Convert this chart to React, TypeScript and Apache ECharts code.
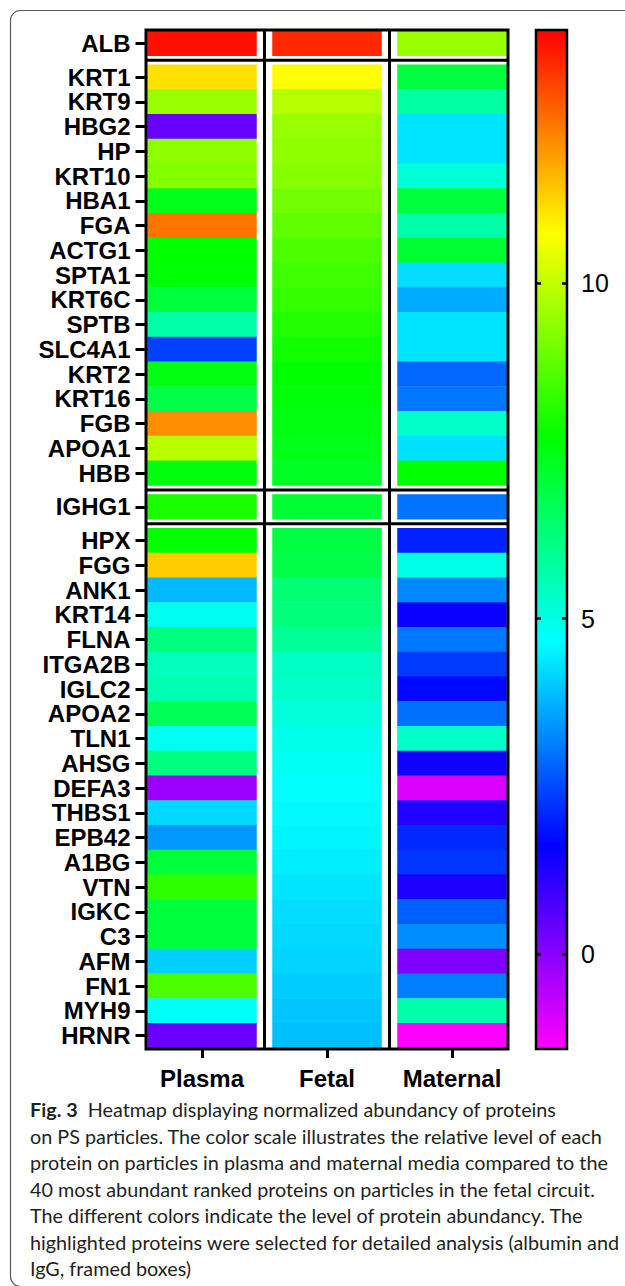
import React, { useEffect, useRef } from "react";
import * as echarts from "echarts";

// ---------- data ----------
const columns = ["Plasma", "Fetal", "Maternal"];

const groupAlbumin = ["ALB"];
const groupUpper = [
  "KRT1", "KRT9", "HBG2", "HP", "KRT10", "HBA1", "FGA", "ACTG1", "SPTA1",
  "KRT6C", "SPTB", "SLC4A1", "KRT2", "KRT16", "FGB", "APOA1", "HBB",
];
const groupIgG = ["IGHG1"];
const groupLower = [
  "HPX", "FGG", "ANK1", "KRT14", "FLNA", "ITGA2B", "IGLC2", "APOA2", "TLN1",
  "AHSG", "DEFA3", "THBS1", "EPB42", "A1BG", "VTN", "IGKC", "C3", "AFM",
  "FN1", "MYH9", "HRNR",
];

// values in protein order: ALB | upper 17 | IGHG1 | lower 21
const plasmaValues = [
  13.6,
  11.1, 9.5, 0.4, 9.4, 9.25, 7.4, 12.4, 7.75, 7.65, 7.0, 5.7, 2.4, 7.5, 6.85, 12.1, 9.9, 7.55,
  8.0,
  7.75, 11.35, 3.82, 4.86, 6.2, 5.47, 5.6, 6.7, 4.84, 6.2, -0.23, 4.2, 3.44, 7.0, 8.25, 7.0, 7.0, 4.1, 8.6, 4.75, 0.36,
];
const fetalValues = [
  13.3,
  10.75, 9.85, 9.5, 9.4, 9.3, 9.05, 8.85, 8.6, 8.45, 8.3, 8.1, 7.9, 7.7, 7.6, 7.5, 7.4, 7.3,
  7.1,
  6.9, 6.85, 6.3, 6.25, 5.9, 5.35, 5.3, 5.1, 4.9, 4.8, 4.66, 4.6, 4.55, 4.45, 4.35, 4.25, 4.2, 4.15, 4.05, 3.97, 3.9,
];
const maternalValues = [
  9.5,
  6.95, 5.8, 4.35, 4.35, 5.1, 6.95, 5.7, 7.1, 4.25, 3.65, 4.35, 4.35, 2.85, 3.05, 5.3, 4.3, 7.75,
  3.0,
  2.0, 4.95, 3.25, 1.5, 3.05, 2.3, 1.7, 2.95, 5.3, 1.45, -1.0, 1.25, 2.1, 2.25, 1.3, 2.75, 3.3, 0.1, 3.15, 5.7, -1.42,
];

const scaleMin = -1.42;
const scaleMax = 13.78;
const scaleTicks = [0, 5, 10];
const scaleColors = ["#ff00ff", "#0000ff", "#00ffff", "#00ff00", "#ffff00", "#ff0000"];

const captionBold = "Fig. 3";
const captionLines = [
  "Heatmap displaying normalized abundancy of proteins",
  "on PS particles. The color scale illustrates the relative level of each",
  "protein on particles in plasma and maternal media compared to the",
  "40 most abundant ranked proteins on particles in the fetal circuit.",
  "The different colors indicate the level of protein abundancy. The",
  "highlighted proteins were selected for detailed analysis (albumin and",
  "IgG, framed boxes)",
];

// ---------- layout ----------
const W = 625;
const H = 1286;
const COL_LEFT = 147.5;
const COL_W = 109;
const COL_GAP = 16;
const ROW_TOP = 31;
const ROW_H = 24.75;
const GROUP_GAP = 9;
const CB_LEFT = 536;
const CB_W = 31;
const LABEL_FONT = "'Liberation Sans', Arial, sans-serif";
const LABEL_SIZE = 24;
const CAPTION_FONT = "Lato, 'Noto Sans', sans-serif";
const CAPTION_SIZE = 19.8;
const CAPTION_X = 30;
const CAPTION_Y0 = 1109;
const CAPTION_PITCH = 26.5;

function buildOption(): any {
  const groups = [groupAlbumin, groupUpper, groupIgG, groupLower];
  const valueCols = [plasmaValues, fetalValues, maternalValues];
  const grid: any[] = [];
  const xAxis: any[] = [];
  const yAxis: any[] = [];
  const series: any[] = [];
  const sepY: number[] = [];
  let top = ROW_TOP;
  let offset = 0;

  groups.forEach((names, g) => {
    const h = names.length * ROW_H;
    const isLast = g === groups.length - 1;
    columns.forEach((col, c) => {
      const idx = grid.length;
      grid.push({
        left: COL_LEFT + c * (COL_W + COL_GAP),
        top,
        width: COL_W,
        height: h,
        containLabel: false,
        outerBoundsMode: "none",
      });
      xAxis.push({
        type: "category",
        gridIndex: idx,
        data: [col],
        position: "bottom",
        axisLine: { show: false },
        axisTick: {
          show: isLast,
          alignWithLabel: true,
          length: 10,
          lineStyle: { color: "#000", width: 3 },
        },
        axisLabel: {
          show: isLast,
          interval: 0,
          margin: 18,
          color: "#000",
          fontFamily: LABEL_FONT,
          fontWeight: "bold",
          fontSize: LABEL_SIZE,
        },
        splitLine: { show: false },
      });
      yAxis.push({
        type: "category",
        gridIndex: idx,
        data: names,
        inverse: true,
        axisLine: { show: false },
        axisTick: {
          show: c === 0,
          interval: 0,
          alignWithLabel: true,
          length: 12,
          lineStyle: { color: "#000", width: 3 },
        },
        axisLabel: {
          show: c === 0,
          interval: 0,
          margin: 17,
          color: "#000",
          fontFamily: LABEL_FONT,
          fontWeight: "bold",
          fontSize: LABEL_SIZE,
        },
        splitLine: { show: false },
      });
      series.push({
        type: "heatmap",
        xAxisIndex: idx,
        yAxisIndex: idx,
        silent: true,
        progressive: 0,
        emphasis: { disabled: true },
        data: names.map((n, i) => [col, n, valueCols[c][offset + i]]),
      });
    });
    offset += names.length;
    top += h;
    if (!isLast) {
      sepY.push(top + GROUP_GAP / 2);
      top += GROUP_GAP;
    }
  });

  const total = top - ROW_TOP;
  const frameX = COL_LEFT - 1.5;
  const frameY = ROW_TOP - 1;
  const frameW = 3 * COL_W + 2 * COL_GAP + 3;
  const frameH = total + 2;

  // colour bar frame + ticks
  const cbIdx = grid.length;
  grid.push({
    left: CB_LEFT,
    top: frameY,
    width: CB_W,
    height: frameH,
    show: true,
    borderColor: "#000",
    borderWidth: 2.5,
    backgroundColor: "transparent",
    z: 10,
    containLabel: false,
    outerBoundsMode: "none",
  });
  xAxis.push({ type: "value", gridIndex: cbIdx, show: false, min: 0, max: 1 });
  const cbAxis = (pos: string, labels: boolean) => ({
    type: "value",
    gridIndex: cbIdx,
    position: pos,
    min: scaleMin,
    max: scaleMax,
    z: 10,
    axisLine: { show: false },
    splitLine: { show: false },
    axisTick: {
      show: true,
      inside: true,
      length: 5,
      customValues: scaleTicks,
      lineStyle: { color: "#000", width: 2.5 },
    },
    axisLabel: {
      show: labels,
      customValues: scaleTicks,
      margin: 14,
      color: "#000",
      fontFamily: LABEL_FONT,
      fontSize: 25,
    },
  });
  yAxis.push(cbAxis("left", false));
  yAxis.push(cbAxis("right", true));

  const graphics: any[] = [];
  graphics.push({
    type: "rect",
    z: 1,
    silent: true,
    shape: { x: 10.5, y: 10.5, width: 700, height: H - 10, r: 10 },
    style: { fill: "none", stroke: "#5a5a5a", lineWidth: 1.2 },
  });
  graphics.push({
    type: "rect",
    z: 100,
    silent: true,
    shape: { x: frameX, y: frameY, width: frameW, height: frameH },
    style: { fill: "none", stroke: "#000", lineWidth: 3 },
  });
  for (let c = 0; c < columns.length - 1; c++) {
    const x = COL_LEFT + (c + 1) * COL_W + c * COL_GAP + COL_GAP / 2;
    graphics.push({
      type: "line",
      z: 100,
      silent: true,
      shape: { x1: x, y1: frameY, x2: x, y2: frameY + frameH },
      style: { stroke: "#000", lineWidth: 3 },
    });
  }
  sepY.forEach((y) => {
    graphics.push({
      type: "line",
      z: 100,
      silent: true,
      shape: { x1: frameX, y1: y, x2: frameX + frameW, y2: y },
      style: { stroke: "#000", lineWidth: 3 },
    });
  });
  captionLines.forEach((line, i) => {
    graphics.push({
      type: "text",
      z: 100,
      silent: true,
      x: CAPTION_X,
      y: CAPTION_Y0 + i * CAPTION_PITCH,
      style: {
        text: i === 0 ? `{b|${captionBold}}  ${line}` : line,
        fontFamily: CAPTION_FONT,
        fontSize: CAPTION_SIZE,
        fill: "#231f20",
        verticalAlign: "middle",
        rich: {
          b: { fontFamily: CAPTION_FONT, fontSize: CAPTION_SIZE, fontWeight: "bold", fill: "#231f20" },
        },
      },
    });
  });

  return {
    animation: false,
    backgroundColor: "#ffffff",
    grid,
    xAxis,
    yAxis,
    visualMap: {
      type: "continuous",
      min: scaleMin,
      max: scaleMax,
      seriesIndex: series.map((_, i) => i),
      inRange: { color: scaleColors },
      calculable: false,
      hoverLink: false,
      realtime: false,
      orient: "vertical",
      left: CB_LEFT,
      top: frameY,
      itemWidth: CB_W,
      itemHeight: frameH,
      padding: 0,
      z: 4,
    },
    series,
    graphic: { elements: graphics },
  };
}

export default function App() {
  const ref = useRef<HTMLDivElement>(null);
  useEffect(() => {
    if (!ref.current) return;
    const chart = echarts.init(ref.current, undefined, { renderer: "svg", width: W, height: H });
    chart.setOption(buildOption());
    return () => chart.dispose();
  }, []);
  return (
    <div
      ref={ref}
      style={{ position: "absolute", left: 0, top: 0, width: W, height: H, background: "#fff" }}
    />
  );
}
